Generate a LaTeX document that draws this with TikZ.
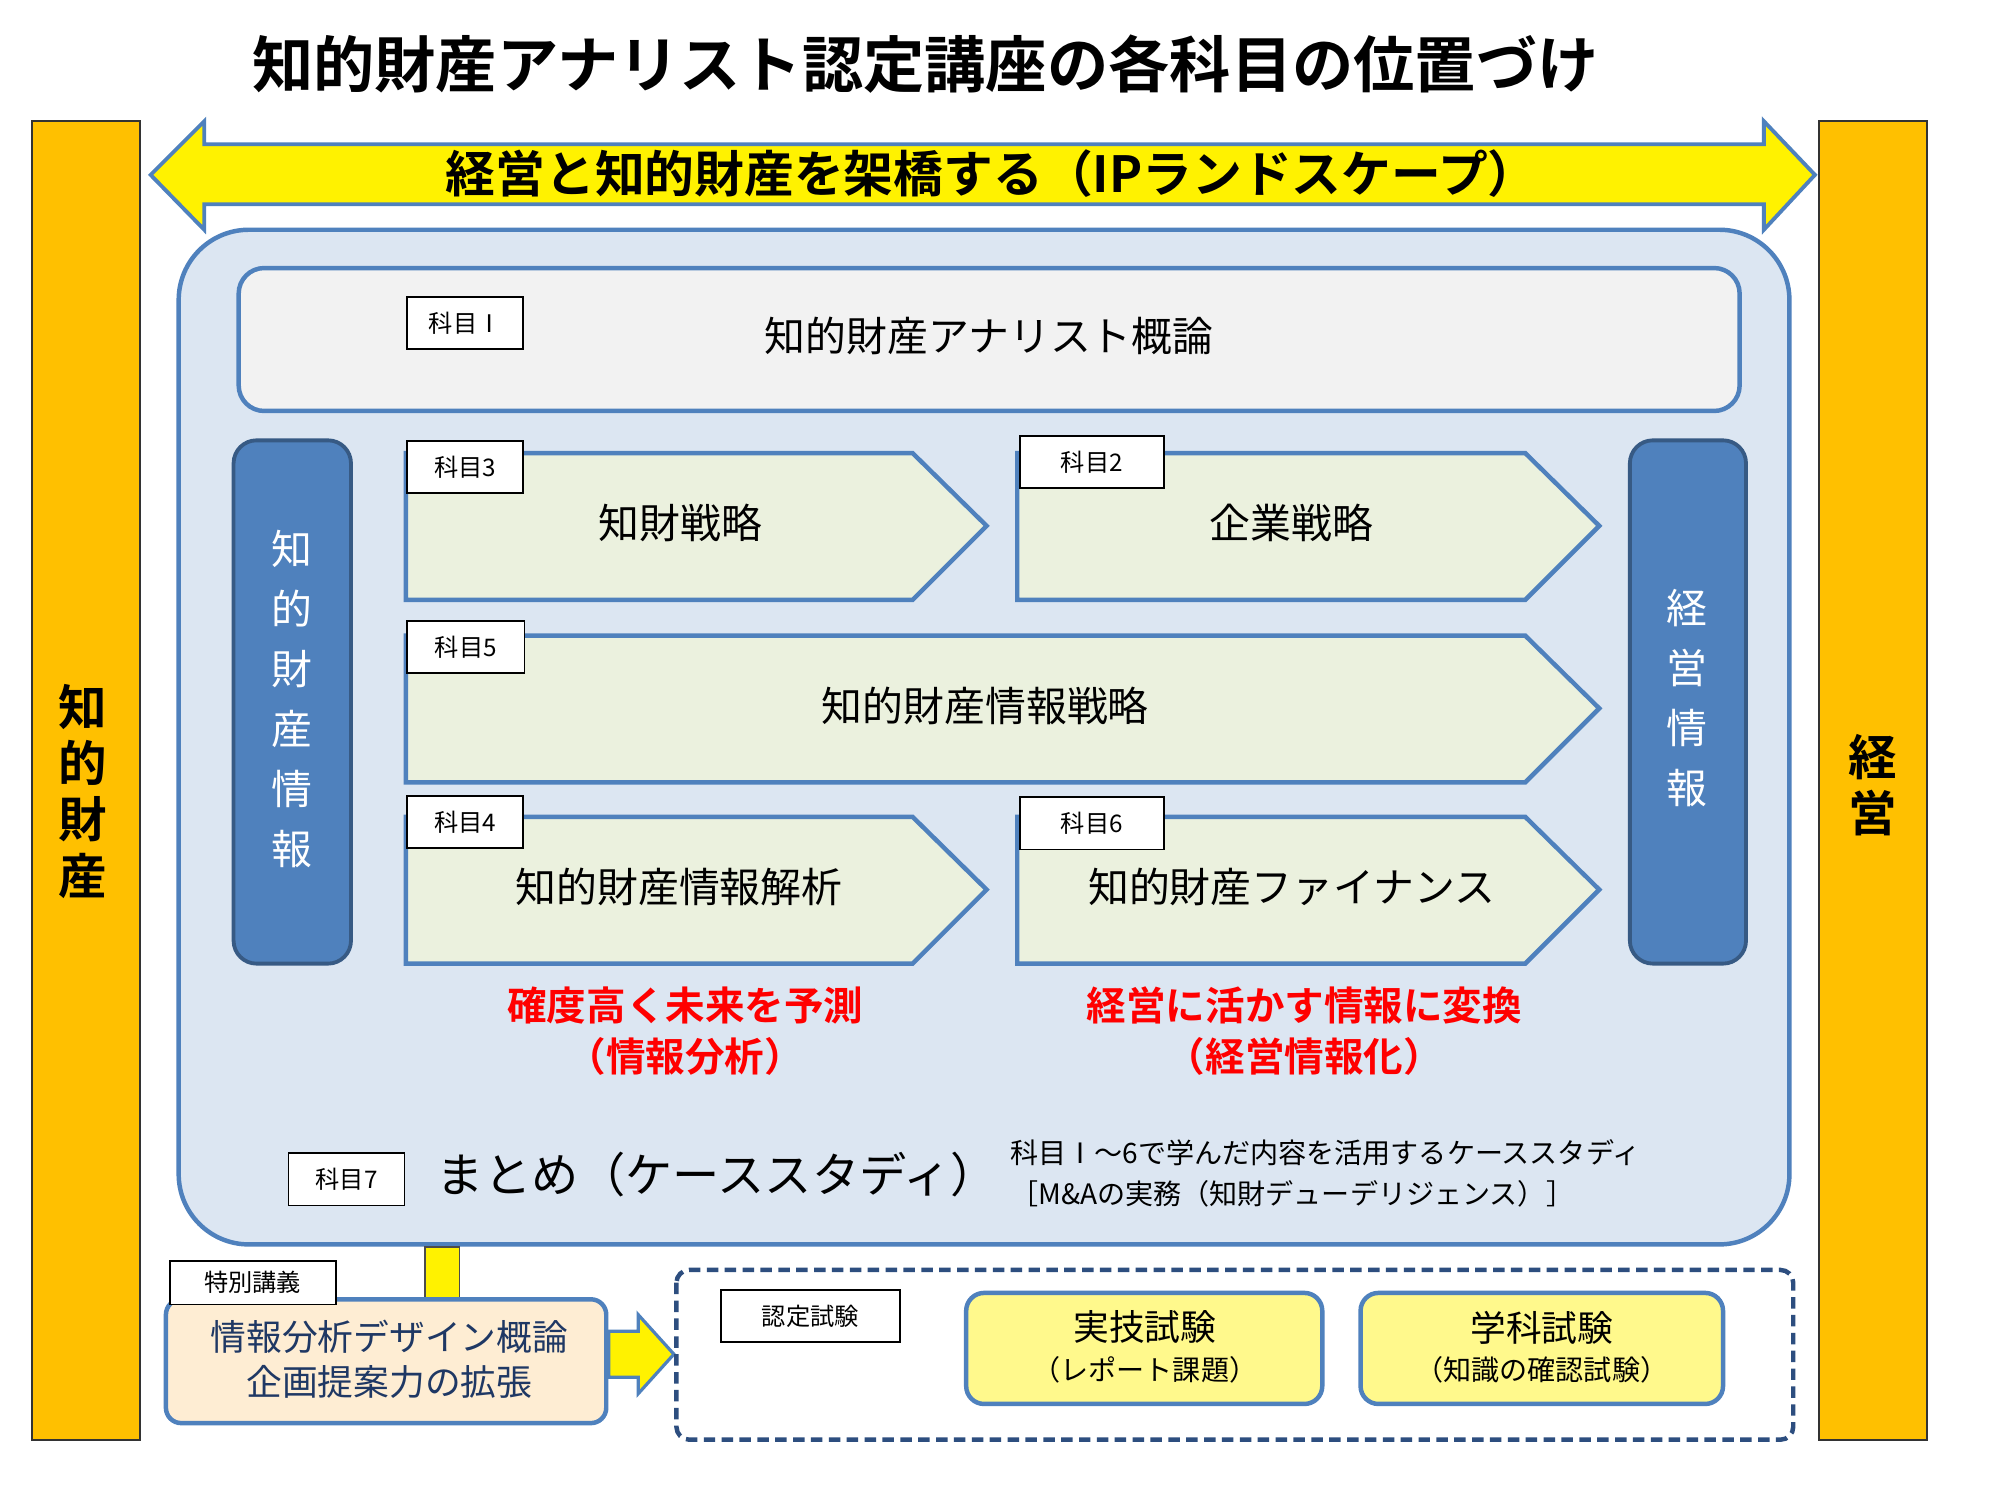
\documentclass[tikz,border=0pt]{standalone}
\usepackage{fontspec}
\setmainfont{Noto Sans CJK JP}
\newfontfamily\jb{Noto Sans CJK JP Bold}
\newcommand{\myfs}[2]{\fontsize{#1}{#2}\selectfont}
\begin{document}
\begin{tikzpicture}[x=1pt,y=-1pt,
  lab/.style={draw=black,fill=white,line width=1.3pt,inner sep=0,minimum height=41pt,font=\myfs{19}{22}},
  arr/.style={draw=myblue, line width=3.5pt},
  red/.style={text=red,font=\jb\myfs{31}{36}}]
\definecolor{myblue}{HTML}{4F81BD}
\definecolor{orng}{HTML}{FFC000}
\definecolor{pale}{HTML}{DCE6F2}
\definecolor{grn}{HTML}{EBF1DE}
\definecolor{navy}{HTML}{1F3864}
\useasboundingbox (0,0) rectangle (1567,1175);
\fill[white] (0,0) rectangle (1567,1175);
\node[font=\jb\myfs{48}{54}] (title) at (725,50) {知的財産アナリスト認定講座の各科目の位置づけ};
% side bars
\draw[fill=orng,draw=black!80,line width=1.5pt] (25,95) rectangle (110,1128);
\node[font=\jb\myfs{38}{44},align=center] (lip) at (65,620) {知\\的\\財\\産};
\draw[fill=orng,draw=black!80,line width=1.5pt] (1425,95) rectangle (1510,1128);
\node[font=\jb\myfs{38}{44},align=center] (rmg) at (1467,615) {経\\営};
% double arrow
\draw[fill=yellow,draw=myblue,line width=3pt] (118,137)--(160,95)--(160,113)--(1382,113)--(1382,95)--(1422,137)--(1382,180)--(1382,160)--(160,160)--(160,180)--cycle;
\node[font=\jb\myfs{39}{44}] (bridge) at (777,136) {経営と知的財産を架橋する（IPランドスケープ）};
% main area
\draw[fill=pale,draw=myblue,line width=3.5pt,rounded corners=55pt] (140,180) rectangle (1402,975);
\draw[fill=black!5,draw=myblue,line width=3.5pt,rounded corners=20pt] (187,210) rectangle (1363,322);
\node[lab,minimum width=91pt] (l1) at (364.5,253) {科目Ⅰ};
\node[font=\myfs{32}{38}] (s1) at (775,263) {知的財産アナリスト概論};
% pills
\draw[fill=myblue,draw=myblue!70!black,line width=3pt,rounded corners=18pt] (183,345) rectangle (275,755);
\node[text=white,font=\myfs{32}{47},align=center] (pl) at (229,548) {知\\的\\財\\産\\情\\報};
\draw[fill=myblue,draw=myblue!70!black,line width=3pt,rounded corners=18pt] (1277,345) rectangle (1368,755);
\node[text=white,font=\myfs{32}{47},align=center] (pr) at (1322,547) {経\\営\\情\\報};
% arrows
\draw[arr,fill=grn] (318,355)--(715,355)--(773,412)--(715,470)--(318,470)--cycle;
\draw[arr,fill=grn] (797,355)--(1195,355)--(1253,412)--(1195,470)--(797,470)--cycle;
\draw[arr,fill=grn] (318,498)--(1195,498)--(1253,555)--(1195,613)--(318,613)--cycle;
\draw[arr,fill=grn] (318,640)--(715,640)--(773,697)--(715,755)--(318,755)--cycle;
\draw[arr,fill=grn] (797,640)--(1195,640)--(1253,697)--(1195,755)--(797,755)--cycle;
\node[lab,minimum width=91pt] (l3) at (364.5,366) {科目3};
\node[lab,minimum width=113pt] (l2) at (855.5,362) {科目2};
\node[lab,minimum width=92pt] (l5) at (365,507) {科目5};
\node[lab,minimum width=91pt] (l4) at (364.5,644) {科目4};
\node[lab,minimum width=113pt] (l6) at (855.5,645) {科目6};
\node[font=\myfs{32}{38}] (s3) at (533,410) {知財戦略};
\node[font=\myfs{32}{38}] (s2) at (1012,410) {企業戦略};
\node[font=\myfs{32}{38}] (s5) at (772,553) {知的財産情報戦略};
\node[font=\myfs{32}{38}] (s4) at (532,695) {知的財産情報解析};
\node[font=\myfs{32}{38}] (s6) at (1012,695) {知的財産ファイナンス};
\node[red] (r1) at (537,788) {確度高く未来を予測};
\node[red] (r2) at (537,828) {（情報分析）};
\node[red] (r3) at (1022,788) {経営に活かす情報に変換};
\node[red] (r4) at (1022,828) {（経営情報化）};
\node[lab,minimum width=91pt] (l7) at (271.5,924) {科目7};
\node[font=\myfs{37}{42}] (s7) at (562,920) {まとめ（ケーススタディ）};
\node[font=\myfs{22}{27},anchor=west] (c1) at (788,903) {科目Ⅰ～6で学んだ内容を活用するケーススタディ};
\node[font=\myfs{22}{27},anchor=west] (c2) at (788,935) {［M\&Aの実務（知財デューデリジェンス）］};
% bottom
\draw[fill=yellow,draw=black!70,line width=1.2pt] (333,977) rectangle (360,1018);
\draw[fill=yellow!15!orange!15!white,draw=myblue,line width=3.5pt,rounded corners=12pt] (130,1018) rectangle (475,1115);
\node[lab,minimum width=130pt,minimum height=34pt,fill=white] (sp) at (198,1005) {特別講義};
\node[text=navy,font=\myfs{28}{33}] (b1) at (305,1047) {情報分析デザイン概論};
\node[text=navy,font=\myfs{28}{33}] (b2) at (305,1083) {企画提案力の拡張};
\draw[fill=yellow,draw=myblue,line width=2.5pt] (477,1043)--(500,1043)--(500,1030)--(528,1061)--(500,1092)--(500,1079)--(477,1079)--cycle;
\draw[draw=navy!70!myblue,dash pattern=on 9pt off 5pt,line width=3.5pt,rounded corners=10pt] (530,995) rectangle (1405,1128);
\node[lab,minimum width=140pt] (ex) at (635,1031) {認定試験};
\draw[fill=yellow!45,draw=myblue,line width=3.5pt,rounded corners=14pt] (757,1013) rectangle (1036,1100);
\node[font=\myfs{28}{33}] (e1) at (897,1040) {実技試験};
\node[font=\myfs{22}{26}] (e1b) at (897,1073) {（レポート課題）};
\draw[fill=yellow!45,draw=myblue,line width=3.5pt,rounded corners=14pt] (1066,1013) rectangle (1350,1100);
\node[font=\myfs{28}{33}] (e2) at (1208,1040) {学科試験};
\node[font=\myfs{22}{26}] (e2b) at (1208,1073) {（知識の確認試験）};
\end{tikzpicture}
\end{document}
